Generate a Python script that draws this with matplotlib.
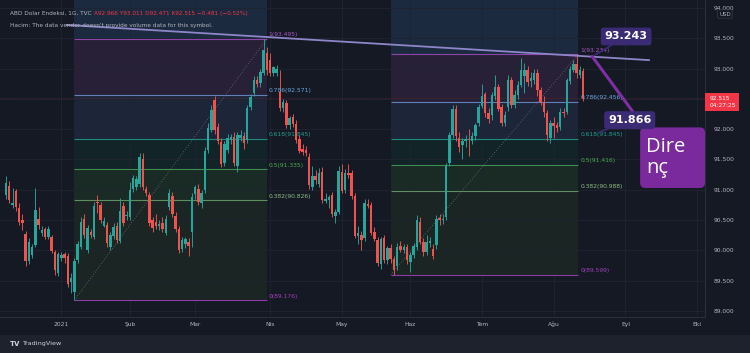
import numpy as np
import pandas as pd
import matplotlib
matplotlib.use("Agg")
from matplotlib import pyplot as plt
from matplotlib.patches import FancyBboxPatch

# daily candles, ABD Dolar Endeksi (TVC), 9 Dec 2020 .. 13 Aug 2021
opens = [
    90.91, 91.06, 90.75, 90.98, 90.70, 90.50, 90.27, 89.83, 89.92, 90.09,
    90.52, 90.29, 90.35, 90.22, 90.22, 89.97, 89.63, 89.88, 89.94, 89.91,
    89.48, 89.31, 89.84, 90.06, 90.52, 90.01, 90.30, 90.22, 90.80, 90.75,
    90.41, 90.42, 90.06, 90.23, 90.40, 90.16, 90.73, 90.56, 90.55, 91.01,
    91.05, 91.09, 91.50, 91.01, 90.91, 90.50, 90.47, 90.40, 90.46, 90.29,
    90.71, 90.90, 90.57, 90.35, 90.02, 90.11, 90.14, 90.30, 90.93, 91.02,
    90.79, 91.00, 91.66, 91.99, 92.48, 92.03, 91.79, 91.45, 91.66, 91.82,
    91.87, 91.40, 91.86, 91.88, 91.82, 92.37, 92.60, 92.81, 92.76, 92.93,
    93.26, 93.15, 92.92, 92.93, 92.62, 92.35, 92.43, 92.07, 92.20, 92.09,
    91.84, 91.67, 91.66, 91.54, 91.05, 91.22, 91.10, 91.30, 90.82, 90.83,
    90.91, 90.56, 90.64, 91.30, 91.00, 91.28, 91.28, 90.89, 90.24, 90.26,
    90.20, 90.77, 90.75, 90.31, 90.17, 89.78, 90.21, 89.84, 90.04, 89.86,
    89.75, 90.07, 90.00, 90.05, 89.81, 89.93, 90.06, 90.47, 90.14, 89.98,
    90.12, 90.03, 90.09, 90.53, 90.50, 90.55, 91.44, 91.90, 92.33, 91.86,
    91.74, 91.80, 91.84, 91.81, 91.88, 92.10, 92.39, 92.58, 92.27, 92.24,
    92.54, 92.70, 92.37, 92.11, 92.37, 92.81, 92.40, 92.57, 92.73, 92.87,
    92.98, 92.80, 92.81, 92.93, 92.65, 92.45, 92.27, 91.85, 92.10, 92.07,
    92.04, 92.29, 92.29, 92.79, 92.98, 93.08, 92.90, 92.966,
]
highs = [
    91.22, 91.15, 91.03, 91.02, 90.78, 90.60, 90.32, 90.20, 90.10, 91.03,
    90.72, 90.40, 90.39, 90.40, 90.26, 90.01, 89.98, 89.98, 89.97, 89.96,
    89.62, 89.88, 90.15, 90.55, 90.60, 90.42, 90.36, 90.80, 90.92, 90.80,
    90.55, 90.47, 90.30, 90.45, 90.47, 90.86, 90.80, 90.65, 91.13, 91.25,
    91.22, 91.60, 91.61, 91.06, 90.96, 90.55, 90.60, 90.50, 90.55, 90.58,
    91.02, 90.96, 90.64, 90.40, 90.22, 90.22, 90.20, 90.95, 91.08, 91.10,
    91.00, 91.70, 92.10, 92.40, 92.55, 92.10, 91.85, 91.80, 91.92, 91.92,
    91.95, 91.95, 91.98, 91.95, 92.40, 92.58, 92.88, 92.88, 93.00, 93.495,
    93.35, 93.25, 93.05, 93.06, 92.98, 92.50, 92.48, 92.22, 92.25, 92.15,
    91.90, 91.75, 91.72, 91.60, 91.40, 91.32, 91.36, 91.38, 90.95, 90.92,
    90.96, 90.68, 91.40, 91.42, 91.35, 91.43, 91.32, 90.95, 90.40, 90.32,
    90.85, 90.85, 90.80, 90.38, 90.22, 90.22, 90.25, 90.08, 90.10, 89.90,
    90.12, 90.15, 90.10, 90.10, 89.98, 90.12, 90.58, 90.55, 90.20, 90.25,
    90.22, 90.10, 90.58, 90.60, 90.60, 91.45, 91.95, 92.40, 92.40, 91.95,
    91.85, 91.90, 92.00, 91.95, 92.10, 92.42, 92.75, 92.62, 92.35, 92.62,
    92.90, 92.75, 92.42, 92.30, 92.90, 92.86, 92.65, 92.80, 93.17, 93.10,
    93.05, 92.95, 93.00, 93.00, 92.70, 92.55, 92.32, 92.15, 92.20, 92.12,
    92.35, 92.35, 92.85, 93.05, 93.15, 93.234, 93.05, 93.011,
]
lows = [
    90.85, 90.78, 90.70, 90.65, 90.42, 90.33, 89.75, 89.78, 89.88, 90.05,
    90.36, 90.24, 90.18, 90.18, 89.95, 89.60, 89.58, 89.82, 89.80, 89.40,
    89.30, 89.176, 89.80, 90.02, 90.20, 89.95, 90.20, 90.18, 90.62, 90.45,
    90.38, 90.05, 90.00, 90.18, 90.12, 90.12, 90.40, 90.50, 90.50, 90.96,
    91.00, 91.05, 91.00, 90.90, 90.40, 90.30, 90.36, 90.33, 90.30, 90.25,
    90.66, 90.55, 90.30, 89.96, 89.97, 90.04, 89.90, 90.05, 90.85, 90.75,
    90.70, 90.95, 91.60, 91.95, 91.92, 91.75, 91.38, 91.40, 91.60, 91.76,
    91.40, 91.30, 91.80, 91.68, 91.78, 92.32, 92.55, 92.70, 92.70, 92.90,
    92.90, 92.88, 92.88, 92.88, 92.30, 92.28, 92.02, 92.00, 92.03, 91.78,
    91.60, 91.58, 91.55, 91.02, 91.00, 91.10, 91.05, 90.78, 90.78, 90.70,
    90.55, 90.45, 90.60, 90.95, 90.95, 91.20, 90.85, 90.20, 90.10, 90.00,
    90.15, 90.70, 90.26, 90.15, 89.75, 89.70, 89.80, 89.78, 89.80, 89.599,
    89.68, 89.98, 89.95, 89.78, 89.65, 89.88, 90.00, 90.10, 89.90, 89.92,
    90.05, 89.85, 90.02, 90.42, 90.44, 90.50, 91.40, 91.85, 91.80, 91.62,
    91.50, 91.70, 91.55, 91.76, 91.83, 92.05, 92.35, 92.20, 92.10, 92.15,
    92.48, 92.30, 92.05, 92.05, 92.30, 92.35, 92.35, 92.50, 92.70, 92.60,
    92.72, 92.70, 92.75, 92.55, 92.40, 92.20, 91.80, 91.78, 91.85, 91.95,
    91.98, 92.20, 92.25, 92.75, 92.95, 92.85, 92.85, 92.471,
]
closes = [
    91.11, 90.83, 90.79, 90.72, 90.47, 90.46, 89.83, 90.14, 90.06, 90.67,
    90.42, 90.34, 90.22, 90.35, 89.99, 89.68, 89.94, 89.93, 89.87, 89.45,
    89.54, 89.83, 90.11, 90.47, 90.25, 90.37, 90.26, 90.73, 90.78, 90.50,
    90.49, 90.13, 90.25, 90.39, 90.17, 90.65, 90.46, 90.59, 90.99, 91.20,
    91.18, 91.54, 91.05, 90.94, 90.45, 90.37, 90.41, 90.43, 90.35, 90.52,
    90.95, 90.60, 90.36, 90.01, 90.17, 90.18, 90.07, 90.88, 91.04, 90.80,
    90.95, 91.64, 92.02, 92.32, 91.98, 91.80, 91.43, 91.75, 91.85, 91.87,
    91.44, 91.90, 91.90, 91.78, 92.35, 92.53, 92.81, 92.75, 92.95, 93.31,
    92.98, 92.93, 93.02, 93.00, 92.35, 92.45, 92.07, 92.18, 92.08, 91.82,
    91.64, 91.63, 91.60, 91.08, 91.22, 91.16, 91.28, 90.83, 90.85, 90.88,
    90.60, 90.64, 91.31, 90.98, 91.28, 91.24, 90.90, 90.24, 90.29, 90.17,
    90.78, 90.73, 90.29, 90.19, 89.79, 90.19, 89.84, 90.04, 89.85, 89.68,
    90.06, 90.01, 90.05, 89.84, 89.92, 90.07, 90.50, 90.14, 89.98, 90.14,
    90.16, 89.91, 90.52, 90.50, 90.52, 91.39, 91.90, 92.33, 91.88, 91.71,
    91.80, 91.84, 91.82, 91.89, 92.07, 92.37, 92.55, 92.27, 92.17, 92.56,
    92.70, 92.34, 92.11, 92.23, 92.81, 92.40, 92.56, 92.73, 92.98, 92.98,
    92.78, 92.84, 92.93, 92.65, 92.45, 92.29, 91.90, 92.10, 92.06, 92.02,
    92.29, 92.26, 92.81, 93.00, 93.08, 92.92, 92.98, 92.515,
]

month_labels = ["2021", "Şub", "Mar", "Nis", "May", "Haz", "Tem", "Ağu", "Eyl", "Eki"]

fib_ratios = [1, 0.786, 0.618, 0.5, 0.382, 0]
fib1_prices = [93.495, 92.571, 91.845, 91.335, 90.826, 89.176]
fib2_prices = [93.234, 92.456, 91.845, 91.416, 90.988, 89.599]
fib1_bars = (21, 80)
fib2_bars = (118, 175.5)

trend_bars = (18.7, 197.2)
trend_prices = (93.72, 93.14)

callout_high = "93.243"
callout_low = "91.866"
callout_word = "Dire\nnç"
last_price = 92.515
last_time = "04:27:25"

# colours
BG = "#151924"
BAR_BG = "#1e222d"
GRID = "#1f2430"
TXT = "#b2b5be"
UP = "#26a69a"
DOWN = "#ef5350"
band_colors = ["#282036", "#1d2538", "#132428", "#1a2a25", "#1b2523"]
top_band = "#1b2a3e"
line_colors = ["#8e44ad", "#5f80b8", "#1d8a7b", "#3f8e4f", "#5d8f5f", "#8e3aa8"]
label_colors = ["#a857c4", "#6aa9e2", "#22a090", "#4caf50", "#8fbf82", "#a040b8"]

W, H = 750, 353
fig = plt.figure(figsize=(W / 100, H / 100), dpi=100, facecolor=BAR_BG)
fig.add_artist(plt.Rectangle((0, 19 / H), 1, 1 - 19 / H, transform=fig.transFigure,
                             color=BG, zorder=0))
ax = fig.add_axes([0, 1 - 317 / H, 705 / W, 317 / H])
ax.set_facecolor(BG)

dates = pd.bdate_range("2020-12-09", periods=len(closes))
axis_days = pd.bdate_range("2020-12-09", "2021-10-29")
month_pos = [k for k in range(1, len(axis_days))
             if axis_days[k].month != axis_days[k - 1].month]

ax.set_xlim(-1.84, 214.4)
ax.set_ylim(88.901, 94.132)

yt = np.arange(89.0, 94.01, 0.5)
for v in yt:
    ax.axhline(v, color=GRID, lw=0.6, zorder=1.5)
for p in month_pos:
    ax.axvline(p, color=GRID, lw=0.6, zorder=1.5)


def draw_fib(bars, prices):
    x0, x1 = bars
    ax.fill_between([x0, x1], prices[0], 94.2, color=top_band, zorder=1, lw=0)
    for k in range(len(prices) - 1):
        ax.fill_between([x0, x1], prices[k + 1], prices[k], color=band_colors[k],
                        zorder=1, lw=0)
    for k, (r, p) in enumerate(zip(fib_ratios, prices)):
        ax.hlines(p, x0, x1, color=line_colors[k], lw=0.8, zorder=2)
        ax.text(x1 + 0.6, p + 0.02, f"{r:g}({p:.3f})", color=label_colors[k],
                fontsize=4.3, va="bottom", ha="left", zorder=5)
    ax.plot([x0, x1], [prices[-1], prices[0]], color="#6b6f7b", lw=0.6,
            ls=(0, (1, 2.2)), zorder=2)


draw_fib(fib1_bars, fib1_prices)
draw_fib(fib2_bars, fib2_prices)

ax.axhline(last_price, color="#f23645", lw=0.6, alpha=0.35, ls=(0, (1, 1.5)), zorder=2)

# candles
x = np.arange(len(closes))
o = np.array(opens)
c = np.array(closes)
cols = [UP if cc >= oo else DOWN for oo, cc in zip(o, c)]
ax.vlines(x, lows, highs, colors=cols, lw=0.65, zorder=3)
ax.bar(x, np.maximum(np.abs(c - o), 0.012), bottom=np.minimum(o, c), width=0.76,
       color=cols, zorder=4, lw=0)

# trend line and callouts
ax.plot(trend_bars, trend_prices, color="#8f86c9", lw=1.3, zorder=6)
ax.plot([179.8, 196.9], [93.20, 91.95], color="#7e2fa3", lw=2.2, zorder=6,
        solid_capstyle="round")
ax.annotate(callout_high, xy=(180.5, 93.22), xytext=(190.2, 93.53),
            color="white", fontsize=8, fontweight="bold", ha="center", va="center",
            bbox=dict(boxstyle="round,pad=0.35,rounding_size=0.3", fc="#3b2b74", ec="none"),
            arrowprops=dict(arrowstyle="-", color="#3b2b74", lw=1.2, shrinkA=0, shrinkB=0),
            zorder=8)
ax.annotate(callout_low, xy=(182.0, 91.95), xytext=(191.3, 92.15),
            color="white", fontsize=8, fontweight="bold", ha="center", va="center",
            bbox=dict(boxstyle="round,pad=0.35,rounding_size=0.3", fc="#3b2b74", ec="none"),
            arrowprops=dict(arrowstyle="-", color="#3b2b74", lw=1.2, shrinkA=0, shrinkB=0),
            zorder=8)
box = FancyBboxPatch((194.5, 91.03), 19.9, 1.0,
                     boxstyle="round,pad=0,rounding_size=1.6",
                     mutation_aspect=3.26 / 60.6, fc="#7b2a9e", ec="none",
                     zorder=7, clip_on=False)
ax.add_patch(box)
ax.text(196.3, 91.87, callout_word, color="white", fontsize=14.5, family="Open Sans",
        va="top", ha="left", linespacing=1.05, zorder=9)

# axes decoration
ax.set_xticks(month_pos)
ax.set_xticklabels(month_labels)
ax.yaxis.tick_right()
ax.set_yticks(yt)
# the 92.500 label sits under the live price tag, as in the screenshot
ax.set_yticklabels(["" if abs(v - 92.5) < 1e-6 else f"{v:.3f}" for v in yt])
ax.tick_params(axis="y", length=0, pad=6, labelsize=4.3, labelcolor=TXT)
ax.tick_params(axis="x", length=0, pad=3.5, labelsize=4.3, labelcolor=TXT)
for s in ["top", "left"]:
    ax.spines[s].set_visible(False)
for s in ["bottom", "right"]:
    ax.spines[s].set_color("#2a2e39")
    ax.spines[s].set_linewidth(0.8)

ax.annotate(f"{last_price:.3f}\n{last_time}", xy=(1, last_price),
            xycoords=("axes fraction", "data"), xytext=(3.0, -2.9),
            textcoords="offset points", ha="left", va="center", color="white",
            fontsize=4.2, linespacing=1.3,
            bbox=dict(boxstyle="square,pad=0.65", fc="#f23645", ec="none"),
            annotation_clip=False, zorder=10)
fig.text(725 / W, 1 - 14 / H, "USD", color=TXT, fontsize=4, ha="center", va="center",
         bbox=dict(boxstyle="round,pad=0.3", fc=BG, ec="#363a45", lw=0.5))

# header text
fig.text(10 / W, 1 - 13 / H, "ABD Dolar Endeksi, 1G, TVC", color=TXT,
         fontsize=4.15, va="center")
fig.text(94 / W, 1 - 13 / H, "A92.966 Y93.011 D92.471 K92.515 \u22120.481 (\u22120.52%)",
         color="#f23645", fontsize=4.15, va="center")
fig.text(10 / W, 1 - 25 / H,
         "Hacim: The data vendor doesn't provide volume data for this symbol.",
         color=TXT, fontsize=4.15, va="center")

fig.text(10 / W, 1 - 344 / H, "TV", color="#d1d4dc", fontsize=5, fontweight="bold",
         va="center")
fig.text(22 / W, 1 - 344 / H, "TradingView", color="#d1d4dc", fontsize=4.6, va="center")

fig.savefig("out.png", dpi=100, facecolor=fig.get_facecolor())
